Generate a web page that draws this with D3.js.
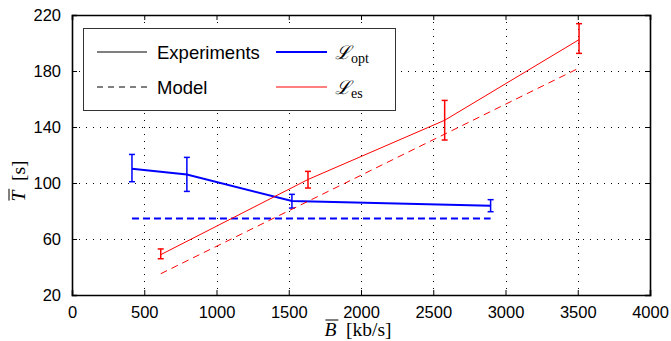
<!DOCTYPE html>
<html>
<head>
<meta charset="utf-8">
<script src="https://cdn.jsdelivr.net/npm/d3@7"></script>
<style>
  body { margin: 0; background: #fff; }
  svg { display: block; }
</style>
</head>
<body>
<div id="chart"></div>
<script>
// values
const xTicks = [0, 500, 1000, 1500, 2000, 2500, 3000, 3500, 4000];
const yTicks = [20, 60, 100, 140, 180, 220];

const optBandwidth = [415, 795, 1522, 2897];
const optMean = [110.2, 106, 87.1, 83.8];
const optLow = [100.9, 94, 82.1, 79.5];
const optHigh = [120.4, 118.3, 91.9, 88.1];
const optModel = [74.7, 74.7, 74.7, 74.7];

const esBandwidth = [614, 1633, 2579, 3509];
const esMean = [48.8, 102.5, 144.8, 202.4];
const esLow = [45.9, 96.4, 130.7, 192.6];
const esHigh = [52.9, 108.3, 159, 213.8];
const esModel = [35.2, 86.9, 134.9, 182.1];

const width = 671, height = 341;
const margin = { top: 15, right: 21, bottom: 46, left: 72 };

const svg = d3.select('#chart').append('svg')
  .attr('width', width)
  .attr('height', height);

const x = d3.scaleLinear().domain([0, 4000]).range([margin.left, width - margin.right]);
const y = d3.scaleLinear().domain([20, 220]).range([height - margin.bottom, margin.top]);

// dotted grid
const grid = svg.append('g').attr('stroke', '#000').attr('stroke-width', 1).attr('stroke-dasharray', '1,6');
grid.selectAll('.gx').data(xTicks.slice(1, -1)).join('line')
  .attr('x1', d => Math.round(x(d)) + 0.5).attr('x2', d => Math.round(x(d)) + 0.5)
  .attr('y1', y(220)).attr('y2', y(20));
grid.selectAll('.gy').data(yTicks.slice(1, -1)).join('line')
  .attr('y1', d => Math.round(y(d)) + 0.5).attr('y2', d => Math.round(y(d)) + 0.5)
  .attr('x1', x(0)).attr('x2', x(4000));

// axes (ticks inward, on all four sides)
const tickFont = '"Liberation Sans", Arial, sans-serif';
svg.append('g').attr('transform', `translate(0,${y(20)})`)
  .call(d3.axisBottom(x).tickValues(xTicks).tickSize(-5).tickPadding(11).tickFormat(d3.format('d')));
svg.append('g').attr('transform', `translate(${x(0)},0)`)
  .call(d3.axisLeft(y).tickValues(yTicks).tickSize(-5).tickPadding(11).tickFormat(d3.format('d')));
svg.append('g').attr('transform', `translate(0,${y(220)})`)
  .call(d3.axisTop(x).tickValues(xTicks).tickSize(-5).tickFormat(''));
svg.append('g').attr('transform', `translate(${x(4000)},0)`)
  .call(d3.axisRight(y).tickValues(yTicks).tickSize(-5).tickFormat(''));
svg.selectAll('.domain').attr('stroke', '#000').attr('stroke-width', 1.6);
svg.selectAll('.tick line').attr('stroke', '#000');
svg.selectAll('.tick text').attr('font-family', tickFont).attr('font-size', 16.5).attr('fill', '#000');

// series
const line = d3.line().x(d => x(d[0])).y(d => y(d[1]));
function drawSeries(xs, mean, low, high, model, color, w, dash) {
  svg.append('path').datum(xs.map((v, i) => [v, mean[i]]))
    .attr('d', line).attr('fill', 'none').attr('stroke', color).attr('stroke-width', w);
  svg.append('path').datum(xs.map((v, i) => [v, model[i]]))
    .attr('d', line).attr('fill', 'none').attr('stroke', color).attr('stroke-width', w)
    .attr('stroke-dasharray', dash);
  const eb = svg.append('g').attr('stroke', color).attr('stroke-width', 1.5);
  xs.forEach((v, i) => {
    eb.append('line').attr('x1', x(v)).attr('x2', x(v)).attr('y1', y(low[i])).attr('y2', y(high[i]));
    eb.append('line').attr('x1', x(v) - 3).attr('x2', x(v) + 3).attr('y1', y(low[i])).attr('y2', y(low[i]));
    eb.append('line').attr('x1', x(v) - 3).attr('x2', x(v) + 3).attr('y1', y(high[i])).attr('y2', y(high[i]));
  });
}
drawSeries(optBandwidth, optMean, optLow, optHigh, optModel, '#0000ff', 2, '7,4');
drawSeries(esBandwidth, esMean, esLow, esHigh, esModel, '#ff0000', 1, '7,5');

// legend
const lg = svg.append('g');
lg.append('rect').attr('x', 83.5).attr('y', 28.5).attr('width', 312).attr('height', 82)
  .attr('fill', '#fff').attr('stroke', '#333').attr('stroke-width', 1);
const legendRows = [
  { x1: 97, x2: 147, y: 52, color: '#000', w: 1, dash: null },
  { x1: 97, x2: 147, y: 87, color: '#000', w: 1, dash: '6,5' },
  { x1: 276, x2: 327, y: 52, color: '#0000ff', w: 2, dash: null },
  { x1: 276, x2: 327, y: 87, color: '#ff0000', w: 1, dash: null }
];
legendRows.forEach(r => {
  lg.append('line').attr('x1', r.x1).attr('x2', r.x2).attr('y1', r.y).attr('y2', r.y)
    .attr('stroke', r.color).attr('stroke-width', r.w).attr('stroke-dasharray', r.dash);
});
lg.append('text').attr('x', 157).attr('y', 59).text('Experiments')
  .attr('font-family', tickFont).attr('font-size', 18.5);
lg.append('text').attr('x', 157).attr('y', 94).text('Model')
  .attr('font-family', tickFont).attr('font-size', 18.5);
const serif = '"DejaVu Serif", "Liberation Serif", serif';
[['opt', 59], ['es', 94]].forEach(([sub, yy]) => {
  const t = lg.append('text').attr('x', 335).attr('y', yy).attr('font-family', serif).attr('font-size', 19);
  t.append('tspan').attr('font-style', 'italic').text('\u2112');
  t.append('tspan').attr('font-size', 14).attr('dy', 4).attr('font-family', '"Liberation Serif", serif').text(sub);
});

// axis labels, with an overline drawn above the variable letter
const labelFont = '"Liberation Serif", serif';
function barLetter(g, letter, rest) {
  const t = g.append('text').attr('font-family', labelFont).attr('font-size', 19.5);
  t.append('tspan').attr('font-style', 'italic').text(letter);
  t.append('tspan').text('\u2002' + rest);
  const n = t.node();
  const w = n.getComputedTextLength();
  t.attr('x', -w / 2);
  const s = n.getStartPositionOfChar(0), e = n.getEndPositionOfChar(0);
  g.append('line').attr('x1', s.x + 1).attr('x2', e.x + 2).attr('y1', -16).attr('y2', -16)
    .attr('stroke', '#000').attr('stroke-width', 1);
}
barLetter(svg.append('g').attr('transform', 'translate(358,336)'), 'B', '[kb/s]');
barLetter(svg.append('g').attr('transform', 'translate(25,181) rotate(-90)'), 'T', '[s]');
</script>
</body>
</html>
